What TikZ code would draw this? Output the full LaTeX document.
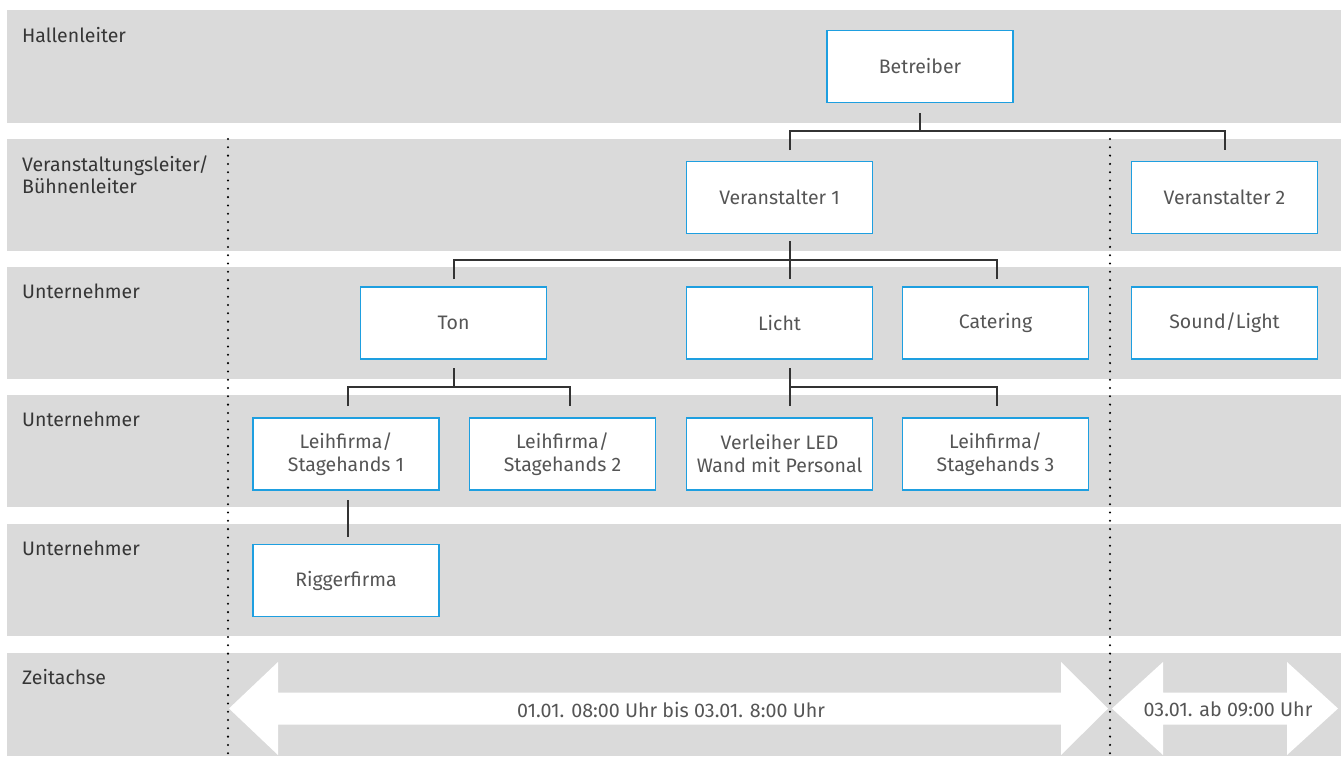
\documentclass[tikz,border=0pt]{standalone}
\usepackage{fontspec}
\setmainfont{Fira Sans}
\definecolor{band}{HTML}{DADADA}
\definecolor{boxblue}{HTML}{1E9FE0}
\definecolor{boxtext}{HTML}{555555}
\definecolor{labtext}{HTML}{363636}
\definecolor{conncol}{HTML}{333333}
\tikzset{
  rowband/.style={fill=band, draw=none},
  orgbox/.style={draw=boxblue, fill=white, line width=1.3pt, minimum width=186pt, minimum height=72pt,
    inner sep=0pt, align=center, text=boxtext, font=\fontsize{19.5}{23}\selectfont},
  rowlabel/.style={anchor=base west, inner sep=0pt, align=left, text=labtext, font=\fontsize{19.5}{21.5}\selectfont},
  conn/.style={draw=conncol, line width=1.3pt},
  dotline/.style={draw=black, line width=2.3pt, line cap=round, dash pattern=on 0pt off 8.3pt},
  timearrow/.style={fill=white, draw=none},
  timetext/.style={text=boxtext, inner sep=0pt, font=\fontsize{19.7}{22}\selectfont}
}
\begin{document}
\begin{tikzpicture}[x=1pt,y=-1pt]
\useasboundingbox (0,0) rectangle (1341,756);
% bands
\fill[rowband] (7,10) rectangle (1341,123);
\fill[rowband] (7,139) rectangle (1341,251);
\fill[rowband] (7,267) rectangle (1341,379);
\fill[rowband] (7,395) rectangle (1341,507);
\fill[rowband] (7,524) rectangle (1341,636);
\fill[rowband] (7,653) rectangle (1341,756);
% row labels
\node[rowlabel] (l1) at (22,42) {Hallenleiter};
\node[rowlabel] (l2) at (22,193) {Veranstaltungsleiter/\\Bühnenleiter};
\node[rowlabel] (l3) at (22,298) {Unternehmer};
\node[rowlabel] (l4) at (22,426) {Unternehmer};
\node[rowlabel] (l5) at (22,555) {Unternehmer};
\node[rowlabel] (l6) at (22,684) {Zeitachse};
% boxes
\node[orgbox] (betr) at (920,66.5) {Betreiber};
\node[orgbox] (v1) at (779.5,197.5) {Veranstalter 1};
\node[orgbox] (v2) at (1224.5,197.5) {Veranstalter 2};
\node[orgbox] (ton) at (453.5,323) {Ton};
\node[orgbox] (licht) at (779.5,323) {Licht};
\node[orgbox] (cat) at (995.5,323) {Catering};
\node[orgbox] (sl) at (1224.5,323) {Sound/Light};
\node[orgbox] (lh1) at (346,454) {Leihfirma/\\Stagehands 1};
\node[orgbox] (lh2) at (562.5,454) {Leihfirma/\\Stagehands 2};
\node[orgbox] (led) at (779.5,454) {Verleiher LED\\Wand mit Personal};
\node[orgbox] (lh3) at (995.5,454) {Leihfirma/\\Stagehands 3};
\node[orgbox] (rig) at (346,580.5) {Riggerfirma};
% connectors
\coordinate (b0) at (920,113);
\coordinate (bj) at (920,131);
\coordinate (bl) at (790,150);
\coordinate (br) at (1225,150);
\draw[conn] (b0) -- (bj);
\draw[conn] (bl) |- (bj) -| (br);
\coordinate (v0) at (790,241);
\coordinate (vj) at (790,260);
\coordinate (vl) at (454,279);
\coordinate (vm) at (790,279);
\coordinate (vr) at (997,279);
\draw[conn] (v0) -- (vm);
\draw[conn] (vl) |- (vj) -| (vr);
\coordinate (t0) at (454,368);
\coordinate (tj) at (454,387);
\coordinate (tl) at (348,406);
\coordinate (tr) at (570,406);
\draw[conn] (t0) -- (tj);
\draw[conn] (tl) |- (tj) -| (tr);
\coordinate (c0) at (790,368);
\coordinate (cm) at (790,406);
\coordinate (cj) at (790,387);
\coordinate (cr) at (997,406);
\draw[conn] (c0) -- (cm);
\draw[conn] (cj) -| (cr);
\coordinate (r0) at (348,500);
\coordinate (r1) at (348,537);
\draw[conn] (r0) -- (r1);
% time arrows
\fill[timearrow] (229,708.5) -- (278,662) -- (278,692.5) -- (1061,692.5) -- (1061,662) -- (1108,708.5)
  -- (1061,755) -- (1061,724.5) -- (278,724.5) -- (278,755) -- cycle;
\fill[timearrow] (1112,708.5) -- (1163,662) -- (1163,692.5) -- (1287,692.5) -- (1287,662) -- (1338,708.5)
  -- (1287,755) -- (1287,724.5) -- (1163,724.5) -- (1163,755) -- cycle;
\node[timetext] (t1) at (671,709.5) {01.01. 08:00 Uhr bis 03.01. 8:00 Uhr};
\node[timetext] (t2) at (1228,709.5) {03.01. ab 09:00 Uhr};
% dotted lines
\coordinate (d1a) at (228,139);
\coordinate (d1b) at (228,756);
\coordinate (d2a) at (1110,139);
\coordinate (d2b) at (1110,756);
\draw[dotline] (d1a) -- (d1b);
\draw[dotline] (d2a) -- (d2b);
\end{tikzpicture}
\end{document}
